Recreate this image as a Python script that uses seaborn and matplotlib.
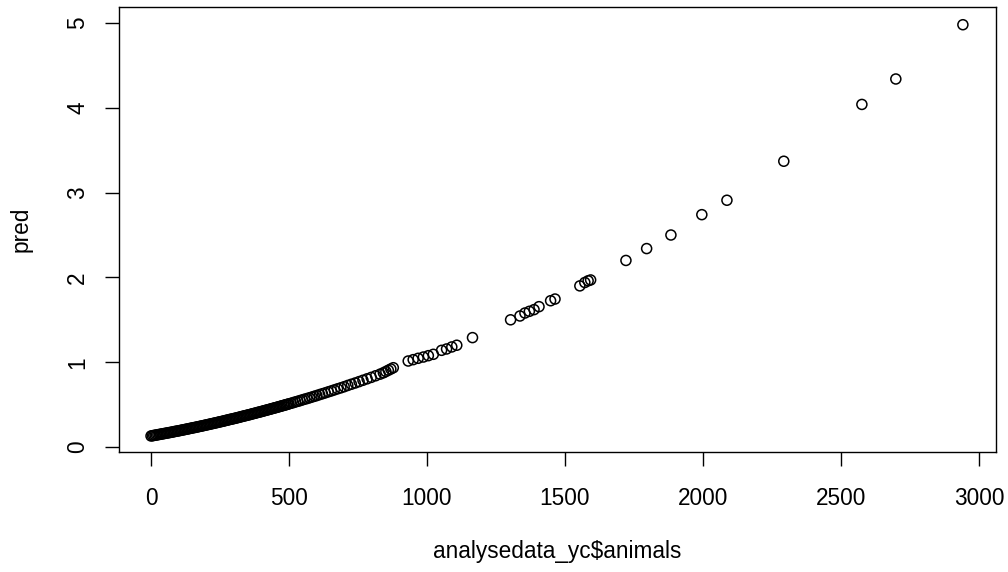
import numpy as np
import pandas as pd
import matplotlib
matplotlib.use("Agg")
import matplotlib.pyplot as plt
import seaborn as sns

# dense part of the curve (solid band 0-500, then thinning out)
animals_dense = [0, 5, 10, 15, 20, 25, 30, 35, 40, 45, 50, 55, 60, 65, 70, 75, 80, 85, 90, 95,
                 100, 105, 110, 115, 120, 125, 130, 135, 140, 145, 150, 155, 160, 165, 170,
                 175, 180, 185, 190, 195, 200, 205, 210, 215, 220, 225, 230, 235, 240, 245,
                 250, 255, 260, 265, 270, 275, 280, 285, 290, 295, 300, 305, 310, 315, 320,
                 325, 330, 335, 340, 345, 350, 355, 360, 365, 370, 375, 380, 385, 390, 395,
                 400, 405, 410, 415, 420, 425, 430, 435, 440, 445, 450, 455, 460, 465, 470,
                 475, 480, 485, 490, 495, 500,
                 508, 516, 524, 532, 540, 548, 556, 565, 574, 583, 592, 601, 611, 621, 631,
                 642, 653, 664, 676, 688, 700, 713, 726, 740, 754, 768, 783, 798, 814, 830,
                 842, 851, 860, 869, 878]
pred_dense = [0.130, 0.133, 0.136, 0.139, 0.142, 0.145, 0.148, 0.151, 0.154, 0.157, 0.160,
              0.163, 0.166, 0.169, 0.172, 0.175, 0.178, 0.182, 0.185, 0.188, 0.191, 0.194,
              0.198, 0.201, 0.204, 0.208, 0.211, 0.214, 0.218, 0.221, 0.225, 0.228, 0.231,
              0.235, 0.238, 0.242, 0.245, 0.249, 0.252, 0.256, 0.260, 0.263, 0.267, 0.271,
              0.274, 0.278, 0.282, 0.285, 0.289, 0.293, 0.297, 0.300, 0.304, 0.308, 0.312,
              0.316, 0.320, 0.324, 0.328, 0.331, 0.335, 0.339, 0.343, 0.347, 0.351, 0.356,
              0.360, 0.364, 0.368, 0.372, 0.376, 0.380, 0.384, 0.389, 0.393, 0.397, 0.401,
              0.406, 0.410, 0.414, 0.418, 0.423, 0.427, 0.432, 0.436, 0.440, 0.445, 0.449,
              0.454, 0.458, 0.463, 0.467, 0.472, 0.476, 0.481, 0.486, 0.490, 0.495, 0.499,
              0.504, 0.509,
              0.516, 0.524, 0.532, 0.539, 0.547, 0.555, 0.563, 0.571, 0.580, 0.589, 0.598,
              0.607, 0.618, 0.628, 0.638, 0.650, 0.661, 0.673, 0.686, 0.698, 0.711, 0.726,
              0.740, 0.755, 0.771, 0.787, 0.804, 0.821, 0.840, 0.859, 0.875, 0.89, 0.905,
              0.92, 0.935]

# sparser points further right
animals_sparse = [932, 950, 968, 987, 1005, 1023, 1053, 1071, 1090, 1108, 1165, 1303, 1337,
                  1355, 1371, 1388, 1406, 1448, 1464, 1554, 1572, 1584, 1593, 1721, 1796,
                  1884, 1996, 2087, 2293, 2576, 2699, 2942]
pred_sparse = [1.014, 1.03, 1.046, 1.061, 1.077, 1.093, 1.14, 1.156, 1.18, 1.20, 1.29, 1.50,
               1.545, 1.58, 1.60, 1.62, 1.655, 1.725, 1.745, 1.90, 1.94, 1.96, 1.97, 2.20,
               2.34, 2.50, 2.74, 2.91, 3.37, 4.04, 4.34, 4.98]

df = pd.DataFrame({"animals": animals_dense + animals_sparse,
                   "pred": pred_dense + pred_sparse})

plt.rcParams["font.family"] = ["Liberation Sans", "DejaVu Sans"]

fig = plt.figure(figsize=(10.08, 5.72), dpi=100)
ax = fig.add_axes([119/1008, 1 - 452/572, (996-119)/1008, (452-7)/572])

sns.scatterplot(data=df, x="animals", y="pred", ax=ax, s=52, facecolor="none",
                edgecolor="black", linewidth=1.1, legend=False)

ax.set_xlim(-116, 3062)
ax.set_ylim(-0.059, 5.189)
ax.set_xticks([0, 500, 1000, 1500, 2000, 2500, 3000])
ax.set_yticks([0, 1, 2, 3, 4, 5])
ax.tick_params(axis="both", direction="out", length=10, width=1, labelsize=16.3)
ax.tick_params(axis="x", pad=15.5)
ax.tick_params(axis="y", pad=11.5)
for lab in ax.get_yticklabels():
    lab.set_rotation(90)
    lab.set_va("center")
for sp in ax.spines.values():
    sp.set_linewidth(1)
    sp.set_color("black")

ax.set_xlabel("analysedata_yc$animals", fontsize=16.3, labelpad=21)
ax.set_ylabel("pred", fontsize=16.3, labelpad=24)

fig.savefig("out.png", dpi=100)
